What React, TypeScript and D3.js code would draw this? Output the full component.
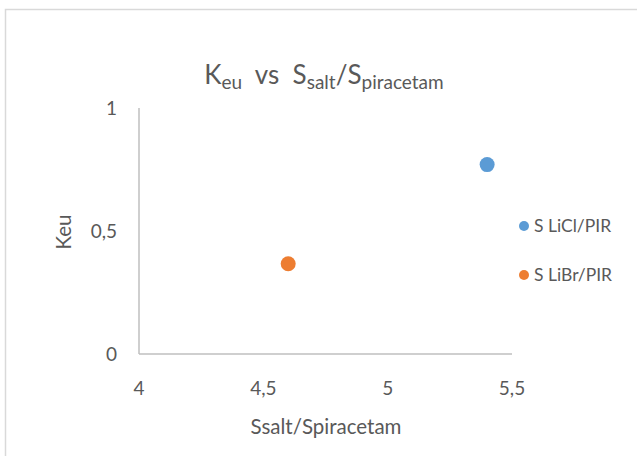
import React from "react";
import * as d3 from "d3";

const seriesNames = ["S LiCl/PIR", "S LiBr/PIR"];
const seriesColors = ["#5b9bd5", "#ed7d31"];
const xValues = [5.4, 4.6];
const yValues = [0.77, 0.367];
const xTicks = [4, 4.5, 5, 5.5];
const yTicks = [0, 0.5, 1];

const W = 637;
const H = 456;
const FONT = "Lato, 'Open Sans', sans-serif";
const fmt = (v: number) => String(v).replace(".", ",");

export default function App() {
  const x = d3.scaleLinear().domain([4, 5.5]).range([139, 512]);
  const y = d3.scaleLinear().domain([0, 1]).range([354, 108]);
  const text = "#595959";

  return (
    <svg
      width={W}
      height={H}
      style={{ position: "absolute", left: 0, top: 0 }}
      fontFamily={FONT}
    >
      <rect x={0} y={0} width={W} height={H} fill="#fff" />
      <rect x={5.5} y={9.5} width={W + 10} height={H + 10} fill="none" stroke="#d9d9d9" strokeWidth={1.5} />

      {/* title */}
      <text x={324} y={84} textAnchor="middle" fontSize={26} fill={text} style={{ whiteSpace: "pre" }}>
        <tspan>K</tspan>
        <tspan fontSize={19} dy={5}>eu</tspan>
        <tspan dy={-5}>{"  vs  S"}</tspan>
        <tspan fontSize={19} dy={5}>salt</tspan>
        <tspan dy={-5}>/S</tspan>
        <tspan fontSize={19} dy={5}>piracetam</tspan>
      </text>

      {/* axes */}
      <line x1={x(4)} x2={x(4)} y1={y(1)} y2={y(0)} stroke="#bfbfbf" strokeWidth={1.5} />
      <line x1={x(4)} x2={x(5.5)} y1={y(0)} y2={y(0)} stroke="#bfbfbf" strokeWidth={1.5} />

      {yTicks.map((t) => (
        <text key={t} x={117} y={y(t)} dy="0.35em" textAnchor="end" fontSize={19} fill={text}>
          {fmt(t)}
        </text>
      ))}
      {xTicks.map((t) => (
        <text key={t} x={x(t)} y={388} dy="0.35em" textAnchor="middle" fontSize={19} fill={text}>
          {fmt(t)}
        </text>
      ))}

      <text x={326} y={427} dy="0.35em" textAnchor="middle" fontSize={20.5} fill={text}>
        Ssalt/Spiracetam
      </text>
      <text
        transform={`translate(64,232) rotate(-90)`}
        dy="0.35em"
        textAnchor="middle"
        fontSize={20.5}
        fill={text}
      >
        Keu
      </text>

      {/* points */}
      {xValues.map((v, i) => (
        <circle key={i} cx={x(v)} cy={y(yValues[i])} r={7.5} fill={seriesColors[i]} />
      ))}

      {/* legend */}
      {seriesNames.map((n, i) => (
        <g key={n} transform={`translate(524,${226 + i * 49})`}>
          <circle cx={0} cy={0} r={5} fill={seriesColors[i]} />
          <text x={10} y={0} dy="0.35em" fontSize={17.5} fill={text}>
            {n}
          </text>
        </g>
      ))}
    </svg>
  );
}
